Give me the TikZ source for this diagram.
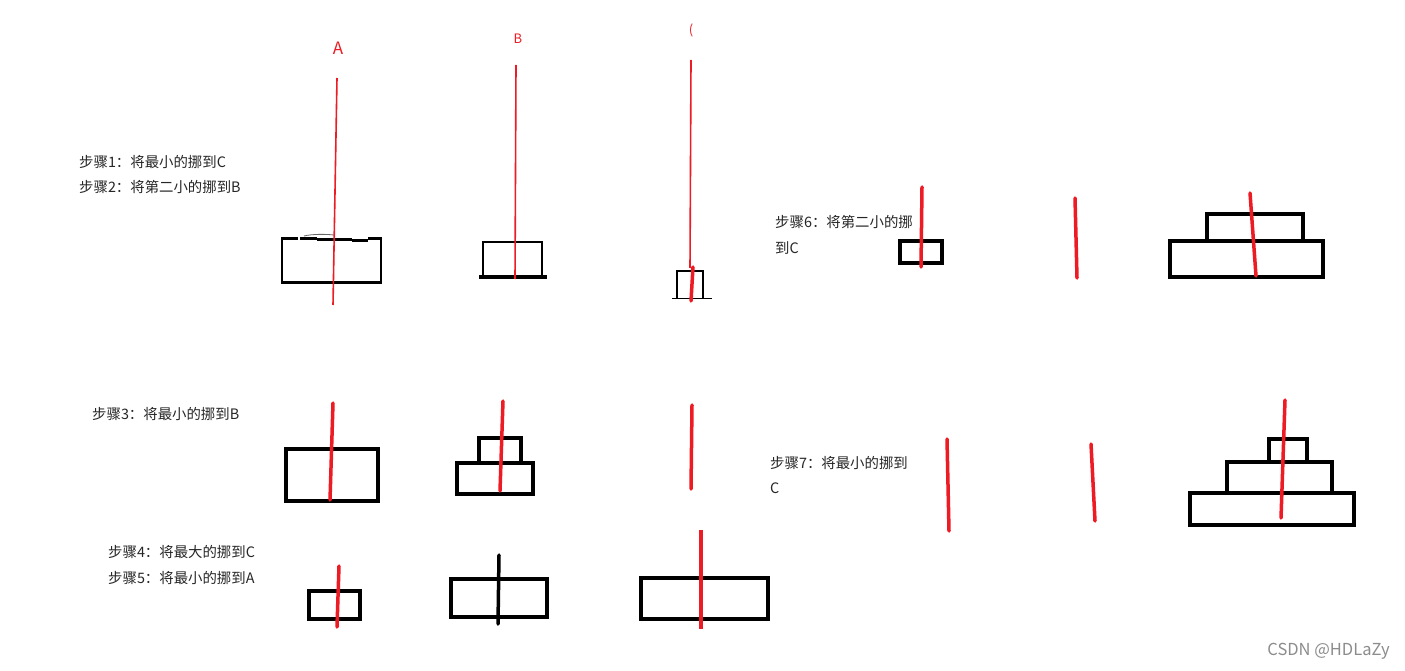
\documentclass[tikz,border=0pt]{standalone}
\usepackage{fontspec}
\usepackage{xcolor}
\newfontfamily\cjk{Noto Sans CJK SC}
\definecolor{pegred}{RGB}{237,28,36}
\begin{document}
\begin{tikzpicture}[x=1pt, y=-1pt,
    steptext/.style={anchor=west, inner sep=0pt, text=black!85,
        font=\cjk\fontsize{14.4}{16}\selectfont},
    polename/.style={inner sep=0pt, text=pegred},
    disk/.style={draw=black, line width=3.5pt},
    peg/.style={draw=pegred, line width=3.5pt, line cap=round},
    thinpeg/.style={draw=pegred, line width=1.6pt}]
    \useasboundingbox[fill=white] (0,0) rectangle (1405,671);

    % pole names
    \node[polename, font=\cjk\fontsize{17}{19}\selectfont] (nameA) at (338,48) {A};
    \node[polename, font=\cjk\fontsize{13}{15}\selectfont] (nameB) at (518,39) {B};
    \node[polename, font=\cjk\fontsize{13}{15}\selectfont] (nameC) at (691,30) {(};

    % steps 1 and 2
    \node[steptext] (step1) at (79,162) {步骤1：将最小的挪到C};
    \node[steptext] (step2) at (79,187) {步骤2：将第二小的挪到B};
    \draw[line width=1.6pt] (282,238) -- (282,282) (381,238) -- (381,282);
    \draw[line width=3pt] (281,282) -- (382,282);
    \draw[line width=3pt] (281,238) -- (298,238) (300,238.5) -- (317,238.5)
        (317,239.5) -- (352,239.5) (352,240) -- (368,240) (368,238) -- (382,238);
    \draw[black!60, line width=0.8pt] (304,236) .. controls (312,234) and (325,234) .. (334,235);
    \draw[line width=2pt] (483,242) -- (483,277) (542,242) -- (542,277);
    \draw[line width=2.5pt] (482,242) -- (543,242);
    \draw[line width=3.5pt] (479,277) -- (547,277);
    \draw[line width=1.5pt] (677,271) -- (677,298) (703,271) -- (703,298);
    \draw[line width=2.5pt] (676,271) -- (704,271);
    \draw[line width=0.9pt] (672,298) -- (712,298);
    \draw[thinpeg] (337,78) -- (333,305);
    \draw[thinpeg] (516,65) -- (515,279);
    \draw[thinpeg] (691,60) -- (690,268);
    \draw[peg] (693,267) -- (691,301);

    % step 3
    \node[steptext] (step3) at (92,414) {步骤3：将最小的挪到B};
    \draw[disk] (286,449) rectangle (378,501);
    \draw[disk] (479,438) rectangle (521,463);
    \draw[disk] (457,463) rectangle (533,494);
    \draw[peg] (333,403) -- (330,500);
    \draw[peg] (503,401) -- (500,491);
    \draw[peg] (692,405) -- (691,489);

    % steps 4 and 5
    \node[steptext] (step4) at (108,552) {步骤4：将最大的挪到C};
    \node[steptext] (step5) at (108,578) {步骤5：将最小的挪到A};
    \draw[disk] (309,591) rectangle (360,619);
    \draw[disk] (451,579) rectangle (547,617);
    \draw[disk] (641,578) rectangle (768,619);
    \draw[peg] (339,566) -- (337,627);
    \draw[line width=3.5pt, line cap=round] (499,555) -- (498,624);
    \draw[draw=pegred, line width=4.5pt] (701,530) -- (701,629);

    % step 6
    \node[steptext] (step6) at (775,222) {步骤6：将第二小的挪};
    \node[steptext] (step6b) at (775,248) {到C};
    \draw[disk] (900,241) rectangle (942,263);
    \draw[disk] (1207,214) rectangle (1303,241);
    \draw[disk] (1170,241) rectangle (1323,277);
    \draw[peg] (922,187) -- (921,267);
    \draw[peg] (1075,198) -- (1077,278);
    \draw[peg] (1250,193) -- (1256,276);

    % step 7
    \node[steptext] (step7) at (770,463) {步骤7：将最小的挪到};
    \node[steptext] (step7b) at (770,488) {C};
    \draw[disk] (1269,439) rectangle (1307,462);
    \draw[disk] (1227,462) rectangle (1332,493);
    \draw[disk] (1190,493) rectangle (1354,525);
    \draw[peg] (947,439) -- (949,531);
    \draw[peg] (1091,444) -- (1095,521);
    \draw[peg] (1285,400) -- (1281,518);

    % watermark
    \node[anchor=east, inner sep=0pt, text=black!45, font=\cjk\fontsize{16.5}{18}\selectfont]
        (mark) at (1390,651) {CSDN @HDLaZy};
\end{tikzpicture}
\end{document}
